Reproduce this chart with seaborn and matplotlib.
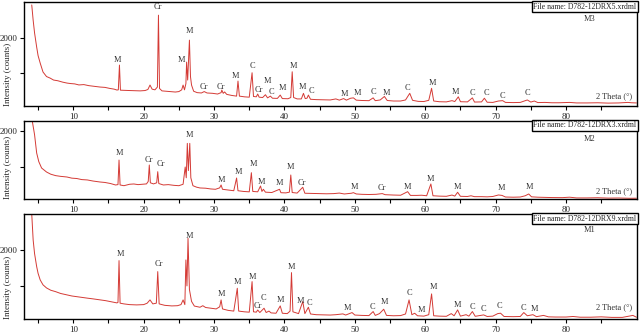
import numpy as np
import pandas as pd
import seaborn as sns
import matplotlib
matplotlib.use("Agg")
import matplotlib.pyplot as plt

sns.set_style("ticks")
plt.rcParams['font.family'] = ['Liberation Serif', 'DejaVu Serif']

# ---- sample M3 (top panel) ----
m3_theta = [4.1, 4.3, 4.5, 4.8, 5.0, 5.3, 5.7, 6.2, 6.7, 7.2, 7.8, 8.5, 9.1, 9.6, 10.2, 10.8,
            11.5, 12.2, 13.0, 13.8, 14.5, 15.2, 15.8, 16.2, 16.4, 16.56, 16.7, 17.2, 18.0, 18.8,
            19.5, 20.2, 20.6, 20.9, 21.2, 21.6, 21.95, 22.1, 22.25, 22.6, 23.2, 23.8, 24.5, 25.0,
            25.4, 25.6, 25.8, 26.0, 26.1, 26.25, 26.5, 26.65, 26.8, 27.1, 27.6, 28.2, 28.6, 29.0,
            29.8, 30.5, 31.0, 31.1, 31.3, 31.5, 31.8, 32.5, 33.2, 33.4, 33.6, 34.3, 35.0, 35.4,
            35.6, 36.0, 36.2, 36.4, 36.9, 37.3, 37.6, 38.0, 38.3, 39.0, 39.4, 39.7, 40.5, 40.9,
            41.1, 41.3, 41.8, 42.4, 42.7, 42.95, 43.2, 43.4, 43.7, 44.5, 45.5, 46.5, 47.3, 47.8,
            48.4, 48.8, 49.4, 49.8, 50.2, 51.0, 52.0, 52.6, 52.9, 53.6, 54.2, 54.6, 55.5, 56.5,
            57.2, 57.8, 58.2, 59.0, 59.8, 60.5, 60.9, 61.2, 62.0, 63.0, 63.8, 64.2, 64.7, 65.0,
            66.0, 66.7, 67.0, 68.0, 68.4, 68.8, 69.6, 70.4, 71.0, 71.4, 72.5, 73.5, 74.5, 75.0,
            75.5, 76.0, 77.0, 78.0, 79.0, 80.5, 81.5, 83.0, 84.5, 86.0, 87.5, 88.8, 89.3, 90.0]
m3_counts = [2950, 2514, 2150, 1743, 1500, 1286, 1030, 900, 857, 800, 780, 740, 714, 700, 690, 660,
             670, 640, 620, 600, 590, 560, 540, 514, 520, 1229, 510, 505, 500, 495,
             490, 500, 530, 657, 540, 520, 600, 2657, 560, 490, 480, 470, 457, 470,
             520, 657, 520, 700, 1314, 800, 1943, 900, 657, 480, 440, 430, 470, 430,
             420, 400, 440, 514, 420, 460, 390, 360, 340, 771, 340, 320, 310, 1009,
             330, 320, 400, 310, 300, 380, 290, 340, 280, 275, 370, 270, 265, 300,
             1037, 300, 260, 260, 420, 270, 280, 370, 250, 240, 235, 230, 260, 225,
             270, 225, 280, 290, 225, 215, 210, 290, 210, 230, 330, 215, 200, 200,
             230, 420, 220, 190, 185, 220, 563, 200, 180, 175, 210, 185, 320, 180,
             175, 290, 170, 175, 280, 165, 160, 200, 210, 160, 155, 160, 230, 170,
             200, 155, 160, 150, 150, 160, 145, 145, 150, 140, 145, 160, 150, 145]
m3_lab_x = [16.3, 22.0, 25.4, 26.5, 28.6, 30.9, 33.0, 35.4, 36.3, 37.6, 38.2, 39.7, 41.3, 42.6, 43.8,
            48.5, 50.3, 52.7, 54.5, 57.5, 61.0, 64.3, 66.7, 68.7, 70.9, 74.5]
m3_lab_y = [1371, 2877, 1371, 2209, 609, 609, 914, 1200, 514, 780, 466, 563, 1200, 591, 494,
            391, 437, 466, 420, 563, 723, 466, 420, 420, 343, 420]
m3_lab = ['M', 'Cr', 'M', 'M', 'Cr', 'Cr', 'M', 'C', 'Cr', 'M', 'C', 'M', 'M', 'M', 'C',
          'M', 'M', 'C', 'M', 'C', 'M', 'M', 'C', 'C', 'C', 'C']

# ---- sample M2 (middle panel) ----
m2_theta = [4.2, 4.5, 4.8, 5.1, 5.5, 6.2, 6.8, 7.5, 8.2, 9.1, 9.8, 10.5, 11.2, 12.0, 12.8, 13.8,
            14.5, 15.3, 16.0, 16.35, 16.5, 16.65, 17.2, 18.0, 18.6, 19.2, 19.8, 20.4, 20.65, 20.8,
            20.95, 21.4, 21.85, 22.0, 22.15, 22.8, 23.5, 24.3, 25.0, 25.6, 25.9, 26.05, 26.2,
            26.35, 26.55, 26.7, 27.0, 27.5, 28.0, 28.8, 29.5, 30.2, 30.8, 31.0, 31.2, 32.0, 32.8,
            33.2, 33.4, 34.2, 35.0, 35.3, 35.5, 36.2, 36.6, 36.8, 37.0, 37.3, 38.2, 39.3, 39.5,
            40.2, 40.7, 40.9, 41.1, 41.8, 42.6, 42.9, 43.8, 45.0, 46.0, 47.0, 47.8, 48.5, 49.5,
            49.8, 50.2, 51.0, 52.0, 53.0, 53.9, 54.3, 55.5, 56.5, 57.5, 57.9, 58.8, 59.5, 60.2,
            60.8, 61.1, 62.0, 63.0, 63.8, 64.2, 64.6, 65.0, 66.0, 66.5, 67.0, 68.0, 68.8, 69.6,
            70.4, 70.9, 71.4, 72.5, 73.5, 74.2, 74.7, 75.1, 76.0, 77.0, 78.0, 79.5, 80.5, 81.5,
            83.0, 84.5, 86.0, 87.5, 89.0, 90.0]
m2_counts = [2250, 1900, 1389, 1150, 972, 861, 800, 760, 740, 722, 690, 680, 650, 640, 610, 583,
             570, 540, 500, 510, 1194, 500, 480, 520, 528, 510, 520, 530, 600, 1056,
             560, 530, 560, 870, 540, 500, 510, 490, 480, 520, 1000, 700, 1658,
             900, 1658, 700, 480, 440, 417, 410, 390, 380, 420, 500, 380, 360, 340,
             694, 340, 320, 310, 842, 320, 310, 472, 320, 380, 300, 290, 380, 285,
             280, 300, 778, 290, 275, 436, 270, 265, 260, 255, 260, 275, 250, 270,
             286, 250, 240, 235, 240, 260, 230, 220, 215, 314, 210, 210, 215, 200,
             528, 200, 190, 185, 220, 190, 297, 185, 180, 200, 175, 175, 170, 180,
             222, 210, 165, 160, 165, 200, 250, 170, 160, 155, 150, 148, 160, 140,
             140, 145, 135, 138, 130, 132]
m2_lab_x = [16.6, 20.8, 22.5, 26.5, 31.0, 33.5, 35.6, 36.7, 39.3, 40.8, 42.5,
            49.9, 53.9, 57.5, 60.8, 64.6, 70.8, 74.8]
m2_lab_y = [1380, 1194, 1075, 1889, 639, 852, 1075, 592, 546, 991, 565,
            435, 407, 453, 667, 453, 407, 435]
m2_lab = ['M', 'Cr', 'Cr', 'M', 'M', 'M', 'M', 'M', 'M', 'M', 'Cr',
          'M', 'Cr', 'M', 'M', 'M', 'M', 'M']

# ---- sample M1 (bottom panel) ----
m1_theta = [4.1, 4.3, 4.5, 4.8, 5.0, 5.3, 5.7, 6.2, 6.8, 7.5, 8.2, 9.1, 9.8, 10.5, 11.2, 12.0,
            12.8, 13.8, 14.6, 15.4, 16.2, 16.35, 16.5, 16.65, 17.2, 18.0, 19.0, 20.0, 20.5, 20.9,
            21.3, 21.8, 22.0, 22.2, 23.0, 24.0, 24.8, 25.3, 25.6, 25.85, 26.0, 26.15, 26.3, 26.5,
            26.8, 27.2, 28.0, 28.4, 28.8, 29.5, 30.3, 30.8, 31.0, 31.2, 32.0, 32.8, 33.3, 33.5,
            34.3, 35.0, 35.4, 35.6, 36.0, 36.2, 36.5, 37.1, 37.4, 37.8, 38.1, 38.8, 39.4, 39.7,
            40.4, 40.8, 41.0, 41.2, 42.0, 42.6, 42.9, 43.4, 43.7, 44.5, 45.5, 46.5, 47.3, 48.3,
            48.7, 49.6, 50.0, 51.0, 52.0, 52.6, 52.9, 53.5, 54.1, 54.5, 55.5, 56.5, 57.2, 57.7,
            58.1, 58.5, 58.9, 59.8, 60.5, 60.9, 61.2, 62.0, 63.0, 63.7, 64.1, 64.6, 65.0, 65.8,
            66.2, 66.7, 67.1, 68.3, 68.8, 69.6, 70.3, 70.7, 71.2, 72.5, 73.5, 74.0, 74.5, 75.3,
            75.8, 76.8, 77.5, 78.5, 80.0, 81.0, 82.0, 83.5, 85.0, 86.5, 88.0, 89.5, 90.0]
m1_counts = [3000, 2278, 1900, 1537, 1350, 1167, 1030, 944, 880, 840, 790, 750, 720, 700, 680, 660,
             640, 611, 590, 560, 528, 540, 1704, 520, 500, 480, 472, 480, 520, 611,
             500, 520, 1398, 500, 460, 444, 450, 480, 611, 480, 1722, 1000, 2324, 900,
             570, 440, 407, 450, 400, 380, 360, 420, 611, 360, 320, 300, 935, 300,
             280, 270, 1120, 280, 270, 330, 260, 380, 260, 300, 250, 240, 444, 240,
             230, 300, 1370, 280, 230, 565, 230, 407, 220, 200, 195, 190, 200, 222,
             190, 259, 190, 180, 175, 287, 180, 230, 352, 180, 170, 175, 220, 611,
             200, 240, 170, 160, 200, 778, 170, 160, 155, 230, 170, 333, 160, 200,
             160, 287, 155, 194, 150, 160, 230, 241, 150, 145, 150, 259, 170, 200,
             145, 180, 140, 135, 135, 150, 130, 130, 140, 125, 125, 180, 130]
m1_lab_x = [16.7, 22.2, 26.5, 31.0, 33.3, 35.5, 36.2, 37.0, 39.4, 41.0, 42.3, 43.6,
            48.9, 52.5, 54.2, 57.8, 59.5, 61.2, 64.6, 66.7, 68.2, 70.6, 74.0, 75.5]
m1_lab_y = [1889, 1602, 2389, 778, 1102, 1259, 454, 657, 611, 1519, 593, 537,
            380, 426, 565, 796, 333, 981, 472, 407, 352, 444, 380, 352]
m1_lab = ['M', 'Cr', 'M', 'M', 'M', 'M', 'Cr', 'C', 'M', 'M', 'M', 'C',
          'M', 'C', 'M', 'C', 'M', 'M', 'M', 'C', 'C', 'C', 'C', 'M']

panels = [
    dict(theta=m3_theta, counts=m3_counts, lx=m3_lab_x, ly=m3_lab_y, lab=m3_lab,
         file="File name: D782-12DRX5.xrdml", name="M3", ylim=(57, 3030),
         rect=[0.0375, 0.6826, 0.958, 0.311], name_y=0.84, th_y=0.09, ylab_y=0.30),
    dict(theta=m2_theta, counts=m2_counts, lx=m2_lab_x, ly=m2_lab_y, lab=m2_lab,
         file="File name: D782-12DRX3.xrdml", name="M2", ylim=(110, 2280),
         rect=[0.0375, 0.4042, 0.958, 0.2335], name_y=0.77, th_y=0.10, ylab_y=0.40),
    dict(theta=m1_theta, counts=m1_counts, lx=m1_lab_x, ly=m1_lab_y, lab=m1_lab,
         file="File name: D782-12DRX9.xrdml", name="M1", ylim=(80, 3000),
         rect=[0.0375, 0.0449, 0.958, 0.3144], name_y=0.85, th_y=0.11, ylab_y=0.30),
]

fig = plt.figure(figsize=(6.4, 3.34), dpi=100)
line_color = "#d43a35"

for p in panels:
    ax = fig.add_axes(p["rect"])
    df = pd.DataFrame({"theta": p["theta"], "counts": p["counts"]})
    sns.lineplot(data=df, x="theta", y="counts", ax=ax, color=line_color,
                 linewidth=0.7, sort=False)
    ax.set_xlim(3, 90.1)
    ax.set_ylim(*p["ylim"])
    ax.set_xticks([10, 20, 30, 40, 50, 60, 70, 80])
    ax.set_xticks([5, 15, 25, 35, 45, 55, 65, 75, 85], minor=True)
    ax.set_yticks([1000, 2000])
    ax.set_yticklabels(["", "2000"])
    ax.tick_params(axis="both", which="both", direction="out", length=3, width=0.8,
                   labelsize=6.5, pad=2, color="black")
    for s in ax.spines.values():
        s.set_linewidth(1.0)
        s.set_color("black")
    ax.set_xlabel("")
    ax.set_ylabel("Intensity (counts)", fontsize=6.5)
    ax.yaxis.set_label_coords(-0.02, p["ylab_y"])

    for x, y, t in zip(p["lx"], p["ly"], p["lab"]):
        ax.text(x, y, t, ha="center", va="center", fontsize=6, color="#333333")

    ax.text(0.999, 0.995, p["file"], transform=ax.transAxes, ha="right", va="top",
            fontsize=5.6, bbox=dict(boxstyle="square,pad=0.15", fc="white", ec="black", lw=1.0))
    ax.text(0.923, p["name_y"], p["name"], transform=ax.transAxes, ha="center", va="center",
            fontsize=6, color="#333333")
    ax.text(0.992, p["th_y"], "2 Theta (\u00b0)", transform=ax.transAxes, ha="right",
            va="center", fontsize=6, color="#333333")

fig.savefig("out.png", dpi=100)
